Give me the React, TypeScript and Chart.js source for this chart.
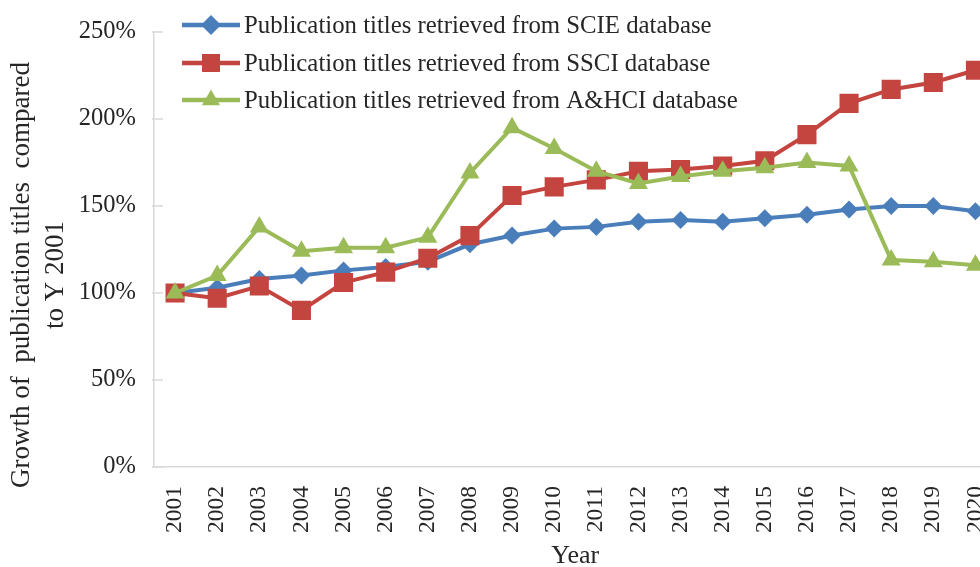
import React, { useEffect, useRef } from "react";
import { Chart, registerables } from "chart.js";

Chart.register(...registerables);

const years = ["2001","2002","2003","2004","2005","2006","2007","2008","2009","2010","2011","2012","2013","2014","2015","2016","2017","2018","2019","2020"];
const scie = [100,103,108,110,113,115,118,128,133,137,138,141,142,141,143,145,148,150,150,147];
const ssci = [100,97,104,90,106,112,120,133,156,161,165,170,171,173,176,191,209,217,221,228];
const ahci = [100,110,138,124,126,126,132,169,195,183,170,163,167,170,172,175,173,119,118,116];

const seriesLabels = [
  "Publication titles retrieved from SCIE database",
  "Publication titles retrieved from SSCI database",
  "Publication titles retrieved from A&HCI database",
];
const yTitleLines = ["Growth of  publication titles  compared", "to Y 2001"];
const xTitle = "Year";

const BLUE = "#4a7ebb";
const RED = "#c4453f";
const GREEN = "#9bbb59";
const AXIS = "#d9d9d9";
const TEXT = "#262626";
const FONT = "'Liberation Serif', 'Times New Roman', serif";

function drawMarker(ctx: CanvasRenderingContext2D, style: string, x: number, y: number, r: number, color: string) {
  ctx.save();
  ctx.fillStyle = color;
  ctx.beginPath();
  if (style === "rectRot") {
    ctx.moveTo(x, y - r);
    ctx.lineTo(x + r, y);
    ctx.lineTo(x, y + r);
    ctx.lineTo(x - r, y);
  } else if (style === "rect") {
    const s = Math.SQRT1_2 * r;
    ctx.rect(x - s, y - s, 2 * s, 2 * s);
  } else {
    const h = r;
    ctx.moveTo(x, y - h);
    ctx.lineTo(x + h * Math.sin(Math.PI / 3), y + h * 0.5);
    ctx.lineTo(x - h * Math.sin(Math.PI / 3), y + h * 0.5);
  }
  ctx.closePath();
  ctx.fill();
  ctx.restore();
}

const decorPlugin = {
  id: "decor",
  afterDraw(chart: any) {
    const ctx: CanvasRenderingContext2D = chart.ctx;
    const yScale = chart.scales.y;
    // inward y ticks
    ctx.save();
    ctx.strokeStyle = AXIS;
    ctx.lineWidth = 1.5;
    yScale.ticks.forEach((t: any) => {
      const py = yScale.getPixelForValue(t.value);
      ctx.beginPath();
      ctx.moveTo(chart.chartArea.left - 2, py);
      ctx.lineTo(chart.chartArea.left + 9, py);
      ctx.stroke();
    });
    ctx.restore();

    // y title
    ctx.save();
    ctx.fillStyle = TEXT;
    ctx.font = `27px ${FONT}`;
    ctx.textAlign = "center";
    ctx.textBaseline = "middle";
    const xs = [22, 56];
    yTitleLines.forEach((line, i) => {
      ctx.save();
      ctx.translate(xs[i], 275);
      ctx.rotate(-Math.PI / 2);
      ctx.fillText(line, 0, 0);
      ctx.restore();
    });
    ctx.restore();

    // legend
    const colors = [BLUE, RED, GREEN];
    const styles = ["rectRot", "rect", "triangle"];
    const radii = [10, 12.7, 10.5];
    const rows = [25, 63, 100];
    ctx.save();
    ctx.font = `24.8px ${FONT}`;
    ctx.textAlign = "left";
    ctx.textBaseline = "middle";
    seriesLabels.forEach((lab, i) => {
      const y = rows[i];
      ctx.strokeStyle = colors[i];
      ctx.lineWidth = 4.5;
      ctx.beginPath();
      ctx.moveTo(182, y);
      ctx.lineTo(240, y);
      ctx.stroke();
      drawMarker(ctx, styles[i], 211, y, radii[i], colors[i]);
      ctx.fillStyle = TEXT;
      ctx.fillText(lab, 244, y + 1);
    });
    ctx.restore();
  },
};

export default function App() {
  const canvasRef = useRef<HTMLCanvasElement | null>(null);

  useEffect(() => {
    if (!canvasRef.current) return;
    const mk = (label: string, data: number[], color: string, style: string, r: number, order: number) => ({
      label,
      data,
      borderColor: color,
      backgroundColor: color,
      borderWidth: 4,
      pointStyle: style,
      pointRadius: r,
      pointBorderWidth: 0,
      pointBackgroundColor: color,
      tension: 0,
      order,
    });
    const chart = new Chart(canvasRef.current, {
      type: "line",
      data: {
        labels: years,
        datasets: [
          mk(seriesLabels[0], scie, BLUE, "rectRot", 9, 3),
          mk(seriesLabels[1], ssci, RED, "rect", 13.5, 2),
          mk(seriesLabels[2], ahci, GREEN, "triangle", 11, 1),
        ],
      },
      options: {
        animation: false,
        responsive: true,
        maintainAspectRatio: false,
        layout: { padding: { top: 32, right: 6, bottom: 0, left: 0 } },
        plugins: {
          legend: { display: false },
          tooltip: { enabled: false },
        },
        scales: {
          x: {
            offset: true,
            grid: { display: false },
            border: { display: true, color: AXIS, width: 1.5 },
            ticks: {
              color: TEXT,
              font: { family: FONT, size: 23.5 },
              minRotation: 90,
              maxRotation: 90,
              padding: 11,
              autoSkip: false,
            },
            title: {
              display: true,
              text: xTitle,
              color: TEXT,
              font: { family: FONT, size: 26, lineHeight: 0.8 },
              padding: { top: 0, bottom: 0 },
            },
            afterFit: (s: any) => {
              s.height = 100;
              s.paddingLeft = 0;
              s.paddingRight = 0;
            },
          },
          y: {
            min: 0,
            max: 250,
            grid: { display: false },
            border: { display: true, color: AXIS, width: 1.5 },
            ticks: {
              stepSize: 50,
              color: TEXT,
              font: { family: FONT, size: 24.5 },
              padding: 10,
              callback: (v: any) => `${v}%`,
            },
            afterFit: (s: any) => {
              s.width = 154;
              s.paddingTop = 0;
              s.paddingBottom = 0;
            },
          },
        },
      },
      plugins: [decorPlugin],
    } as any);
    return () => chart.destroy();
  }, []);

  return (
    <div style={{ position: "fixed", left: 0, top: 0, width: 980, height: 567, overflow: "hidden", background: "#fff" }}>
      <div style={{ position: "relative", width: 1010, height: 567 }}>
        <canvas ref={canvasRef} />
      </div>
    </div>
  );
}
